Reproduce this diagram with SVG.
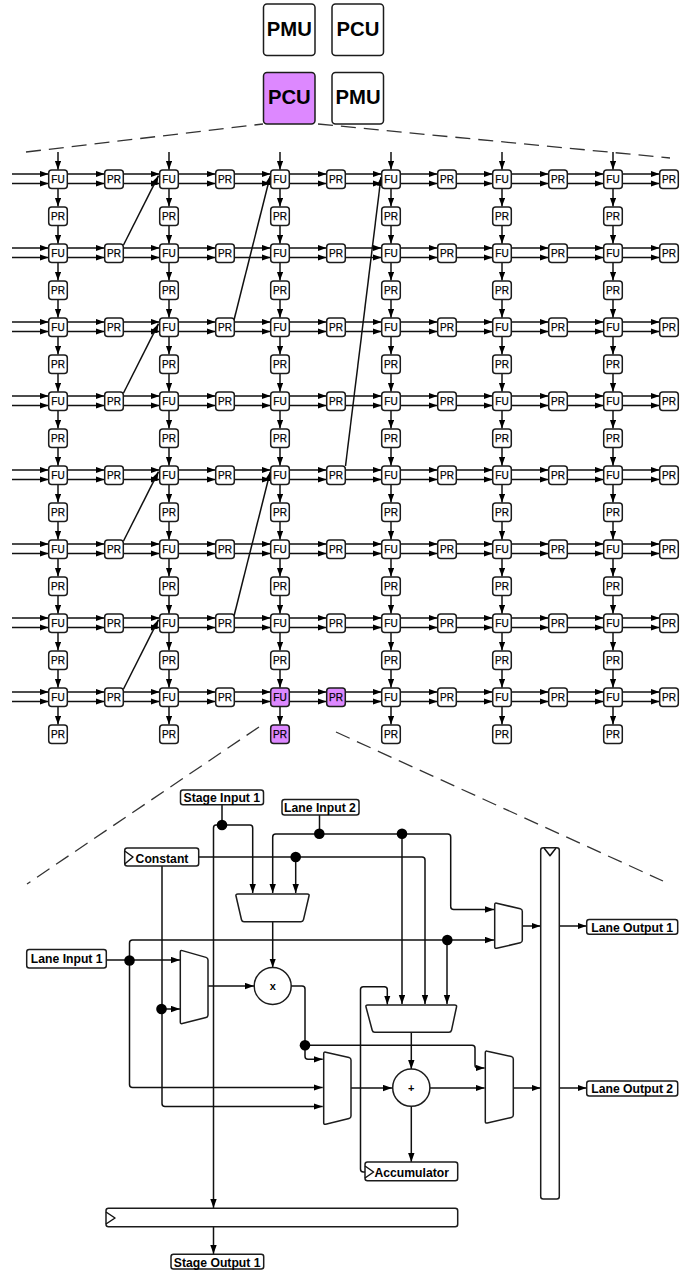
<svg xmlns="http://www.w3.org/2000/svg" width="694" height="1272" viewBox="0 0 694 1272">
<style>
text{font-family:"Liberation Sans",Arial,sans-serif;fill:#000;text-anchor:middle;opacity:.99}
.b{fill:#fff;stroke:#1c1c1c;stroke-width:1.5}
.p{fill:#dd88ff}
.w{fill:none;stroke:#111;stroke-width:1.5;stroke-linejoin:round}
.a{marker-end:url(#ah)}
.d{fill:none;stroke:#333;stroke-width:1.3;stroke-dasharray:15 8}
.dot{fill:#000}
.f{font-size:10px;stroke:#000;stroke-width:.25}
.r{font-size:10px;stroke:#000;stroke-width:.25}
.o{font-size:11px;font-weight:700}
.l{font-size:12.2px;font-weight:700}
.u{font-size:20.3px;font-weight:700}
</style>
<defs>
<marker id="ah" markerUnits="userSpaceOnUse" markerWidth="10" markerHeight="8" refX="9" refY="3.2" orient="auto"><path d="M0 0L9 3.2L0 6.4Z" fill="#000"/></marker>
<g id="row">
<path class="w a" d="M67 174H104.5"/><path class="w a" d="M67 183.5H104.5"/><path class="w a" d="M123 174H159.6"/><path class="w a" d="M123 183.5H159.6"/>
<path class="w a" d="M178 174H215.5"/><path class="w a" d="M178 183.5H215.5"/><path class="w a" d="M234 174H270.6"/><path class="w a" d="M234 183.5H270.6"/>
<path class="w a" d="M289 174H326.5"/><path class="w a" d="M289 183.5H326.5"/><path class="w a" d="M345 174H381.6"/><path class="w a" d="M345 183.5H381.6"/>
<path class="w a" d="M400 174H437.5"/><path class="w a" d="M400 183.5H437.5"/><path class="w a" d="M456 174H492.6"/><path class="w a" d="M456 183.5H492.6"/>
<path class="w a" d="M511 174H548.5"/><path class="w a" d="M511 183.5H548.5"/><path class="w a" d="M567 174H603.6"/><path class="w a" d="M567 183.5H603.6"/>
<path class="w a" d="M622 174H659.5"/><path class="w a" d="M622 183.5H659.5"/>
<path class="w a" d="M12 174H48.6"/><path class="w a" d="M12 183.5H48.6"/>
<path class="w a" d="M58 188.5V206.6"/><path class="w a" d="M169 188.5V206.6"/><path class="w a" d="M280 188.5V206.6"/><path class="w a" d="M391 188.5V206.6"/><path class="w a" d="M502 188.5V206.6"/><path class="w a" d="M613 188.5V206.6"/>
</g>
<g id="down">
<path class="w a" d="M58 225.5V243.7"/><path class="w a" d="M169 225.5V243.7"/><path class="w a" d="M280 225.5V243.7"/><path class="w a" d="M391 225.5V243.7"/><path class="w a" d="M502 225.5V243.7"/><path class="w a" d="M613 225.5V243.7"/>
</g>
</defs>
<g id="zoom-lines">
<path class="d" d="M26 152L263 124"/><path class="d" d="M318 124L670 158"/><path class="d" d="M259 727L27 884"/><path class="d" d="M336 732L663 881"/>
</g>
<g id="connectors">
<use href="#row"/><use href="#row" y="74"/><use href="#row" y="148"/><use href="#row" y="222"/><use href="#row" y="296"/><use href="#row" y="370"/><use href="#row" y="444"/><use href="#row" y="518"/>
<use href="#down"/><use href="#down" y="74"/><use href="#down" y="148"/><use href="#down" y="222"/><use href="#down" y="296"/><use href="#down" y="370"/><use href="#down" y="444"/>
<path class="w a" d="M58 152V169.7"/><path class="w a" d="M169 152V169.7"/><path class="w a" d="M280 152V169.7"/><path class="w a" d="M391 152V169.7"/><path class="w a" d="M502 152V169.7"/><path class="w a" d="M613 152V169.7"/>
<path class="w a" d="M123.5 245L158.5 175.7"/><path class="w a" d="M123.5 393L158.5 323.7"/><path class="w a" d="M123.5 541L158.5 471.7"/><path class="w a" d="M123.5 689L158.5 619.7"/>
<path class="w a" d="M234 320L270.2 176"/><path class="w a" d="M234 616L270.2 472"/><path class="w a" d="M345.5 466L381 177"/>
<path class="w" d="M222 805V825"/>
<path class="w a" d="M222 825H250Q252.7 825 252.7 828V893"/>
<path class="w a" d="M222 825H216Q213.5 825 213.5 828V1208"/>
<path class="w a" d="M213.5 1227V1254"/>
<path class="w" d="M319.5 815V834"/>
<path class="w a" d="M319.5 834H275.7Q272.7 834 272.7 837V893"/>
<path class="w a" d="M319.5 834H447.7Q450.7 834 450.7 837V906.5Q450.7 909.5 453.7 909.5H494"/>
<path class="w a" d="M402 834V1004"/>
<path class="w a" d="M198.7 857H422Q425 857 425 860V1004"/>
<path class="w a" d="M295.7 857V893"/>
<path class="w a" d="M162 866V1103.5Q162 1106.5 165 1106.5H322.7"/>
<path class="w a" d="M162 1009H180"/>
<path class="w a" d="M106.3 960H180"/>
<path class="w a" d="M129.5 960V943Q129.5 940 132.5 940H494"/>
<path class="w a" d="M447 940V1004"/>
<path class="w a" d="M129.5 960V1084.5Q129.5 1087.5 132.5 1087.5H322.7"/>
<path class="w a" d="M272.7 921.7V967.5"/>
<path class="w a" d="M208 986H254"/>
<path class="w" d="M291 986H302Q305 986 305 989V1045"/>
<path class="w a" d="M305 1045V1056.3Q305 1059.3 308 1059.3H322.7"/>
<path class="w a" d="M305 1045.3H472Q475 1045.3 475 1048.3V1065Q475 1068 478 1068H484.6"/>
<path class="w a" d="M351 1088H392"/>
<path class="w a" d="M411.3 1032.3V1069"/>
<path class="w a" d="M430 1088H484.6"/>
<path class="w a" d="M411.3 1106.4V1162"/>
<path class="w a" d="M513.3 1088H540.5"/>
<path class="w a" d="M522.3 926H540.5"/>
<path class="w a" d="M559.3 926H586.5"/>
<path class="w a" d="M559.3 1088H586.5"/>
<path class="w a" d="M365 1172H363.3Q360.5 1172 360.5 1169V989.5Q360.5 986.7 363.3 986.7H384.3Q387.3 986.7 387.3 989.7V1004.5"/>
</g>
<g id="junctions">
<circle class="dot" cx="222" cy="825" r="5.3"/><circle class="dot" cx="319.3" cy="833.7" r="5.3"/><circle class="dot" cx="402" cy="833.7" r="5.3"/><circle class="dot" cx="295.7" cy="857" r="5.3"/><circle class="dot" cx="161.5" cy="1009" r="5.3"/><circle class="dot" cx="129.5" cy="960.5" r="5.3"/><circle class="dot" cx="447.3" cy="940" r="5.3"/><circle class="dot" cx="305" cy="1045.3" r="5.3"/>
</g>
<g id="pmu-1"><rect class="b" x="263.5" y="4" width="51.5" height="51.5" rx="3.5"/><text class="u" x="289.3" y="35.5">PMU</text></g>
<g id="pcu-1"><rect class="b" x="332" y="4" width="51.5" height="51.5" rx="3.5"/><text class="u" x="358" y="35.5">PCU</text></g>
<g id="pcu-2"><rect class="b p" x="263.5" y="72.5" width="51.5" height="51.5" rx="3.5"/><text class="u" x="289.3" y="103.5">PCU</text></g>
<g id="pmu-2"><rect class="b" x="332" y="72.5" width="51.5" height="51.5" rx="3.5"/><text class="u" x="358" y="103.5">PMU</text></g>
<g id="fu-1-1" transform="translate(58 179)"><rect class="b" x="-9.3" y="-9" width="18.6" height="18.6" rx="3"/><text class="f" y="4">FU</text></g>
<g id="fu-1-2" transform="translate(169 179)"><rect class="b" x="-9.3" y="-9" width="18.6" height="18.6" rx="3"/><text class="f" y="4">FU</text></g>
<g id="fu-1-3" transform="translate(280 179)"><rect class="b" x="-9.3" y="-9" width="18.6" height="18.6" rx="3"/><text class="f" y="4">FU</text></g>
<g id="fu-1-4" transform="translate(391 179)"><rect class="b" x="-9.3" y="-9" width="18.6" height="18.6" rx="3"/><text class="f" y="4">FU</text></g>
<g id="fu-1-5" transform="translate(502 179)"><rect class="b" x="-9.3" y="-9" width="18.6" height="18.6" rx="3"/><text class="f" y="4">FU</text></g>
<g id="fu-1-6" transform="translate(613 179)"><rect class="b" x="-9.3" y="-9" width="18.6" height="18.6" rx="3"/><text class="f" y="4">FU</text></g>
<g id="fu-2-1" transform="translate(58 253)"><rect class="b" x="-9.3" y="-9" width="18.6" height="18.6" rx="3"/><text class="f" y="4">FU</text></g>
<g id="fu-2-2" transform="translate(169 253)"><rect class="b" x="-9.3" y="-9" width="18.6" height="18.6" rx="3"/><text class="f" y="4">FU</text></g>
<g id="fu-2-3" transform="translate(280 253)"><rect class="b" x="-9.3" y="-9" width="18.6" height="18.6" rx="3"/><text class="f" y="4">FU</text></g>
<g id="fu-2-4" transform="translate(391 253)"><rect class="b" x="-9.3" y="-9" width="18.6" height="18.6" rx="3"/><text class="f" y="4">FU</text></g>
<g id="fu-2-5" transform="translate(502 253)"><rect class="b" x="-9.3" y="-9" width="18.6" height="18.6" rx="3"/><text class="f" y="4">FU</text></g>
<g id="fu-2-6" transform="translate(613 253)"><rect class="b" x="-9.3" y="-9" width="18.6" height="18.6" rx="3"/><text class="f" y="4">FU</text></g>
<g id="fu-3-1" transform="translate(58 327)"><rect class="b" x="-9.3" y="-9" width="18.6" height="18.6" rx="3"/><text class="f" y="4">FU</text></g>
<g id="fu-3-2" transform="translate(169 327)"><rect class="b" x="-9.3" y="-9" width="18.6" height="18.6" rx="3"/><text class="f" y="4">FU</text></g>
<g id="fu-3-3" transform="translate(280 327)"><rect class="b" x="-9.3" y="-9" width="18.6" height="18.6" rx="3"/><text class="f" y="4">FU</text></g>
<g id="fu-3-4" transform="translate(391 327)"><rect class="b" x="-9.3" y="-9" width="18.6" height="18.6" rx="3"/><text class="f" y="4">FU</text></g>
<g id="fu-3-5" transform="translate(502 327)"><rect class="b" x="-9.3" y="-9" width="18.6" height="18.6" rx="3"/><text class="f" y="4">FU</text></g>
<g id="fu-3-6" transform="translate(613 327)"><rect class="b" x="-9.3" y="-9" width="18.6" height="18.6" rx="3"/><text class="f" y="4">FU</text></g>
<g id="fu-4-1" transform="translate(58 401)"><rect class="b" x="-9.3" y="-9" width="18.6" height="18.6" rx="3"/><text class="f" y="4">FU</text></g>
<g id="fu-4-2" transform="translate(169 401)"><rect class="b" x="-9.3" y="-9" width="18.6" height="18.6" rx="3"/><text class="f" y="4">FU</text></g>
<g id="fu-4-3" transform="translate(280 401)"><rect class="b" x="-9.3" y="-9" width="18.6" height="18.6" rx="3"/><text class="f" y="4">FU</text></g>
<g id="fu-4-4" transform="translate(391 401)"><rect class="b" x="-9.3" y="-9" width="18.6" height="18.6" rx="3"/><text class="f" y="4">FU</text></g>
<g id="fu-4-5" transform="translate(502 401)"><rect class="b" x="-9.3" y="-9" width="18.6" height="18.6" rx="3"/><text class="f" y="4">FU</text></g>
<g id="fu-4-6" transform="translate(613 401)"><rect class="b" x="-9.3" y="-9" width="18.6" height="18.6" rx="3"/><text class="f" y="4">FU</text></g>
<g id="fu-5-1" transform="translate(58 475)"><rect class="b" x="-9.3" y="-9" width="18.6" height="18.6" rx="3"/><text class="f" y="4">FU</text></g>
<g id="fu-5-2" transform="translate(169 475)"><rect class="b" x="-9.3" y="-9" width="18.6" height="18.6" rx="3"/><text class="f" y="4">FU</text></g>
<g id="fu-5-3" transform="translate(280 475)"><rect class="b" x="-9.3" y="-9" width="18.6" height="18.6" rx="3"/><text class="f" y="4">FU</text></g>
<g id="fu-5-4" transform="translate(391 475)"><rect class="b" x="-9.3" y="-9" width="18.6" height="18.6" rx="3"/><text class="f" y="4">FU</text></g>
<g id="fu-5-5" transform="translate(502 475)"><rect class="b" x="-9.3" y="-9" width="18.6" height="18.6" rx="3"/><text class="f" y="4">FU</text></g>
<g id="fu-5-6" transform="translate(613 475)"><rect class="b" x="-9.3" y="-9" width="18.6" height="18.6" rx="3"/><text class="f" y="4">FU</text></g>
<g id="fu-6-1" transform="translate(58 549)"><rect class="b" x="-9.3" y="-9" width="18.6" height="18.6" rx="3"/><text class="f" y="4">FU</text></g>
<g id="fu-6-2" transform="translate(169 549)"><rect class="b" x="-9.3" y="-9" width="18.6" height="18.6" rx="3"/><text class="f" y="4">FU</text></g>
<g id="fu-6-3" transform="translate(280 549)"><rect class="b" x="-9.3" y="-9" width="18.6" height="18.6" rx="3"/><text class="f" y="4">FU</text></g>
<g id="fu-6-4" transform="translate(391 549)"><rect class="b" x="-9.3" y="-9" width="18.6" height="18.6" rx="3"/><text class="f" y="4">FU</text></g>
<g id="fu-6-5" transform="translate(502 549)"><rect class="b" x="-9.3" y="-9" width="18.6" height="18.6" rx="3"/><text class="f" y="4">FU</text></g>
<g id="fu-6-6" transform="translate(613 549)"><rect class="b" x="-9.3" y="-9" width="18.6" height="18.6" rx="3"/><text class="f" y="4">FU</text></g>
<g id="fu-7-1" transform="translate(58 623)"><rect class="b" x="-9.3" y="-9" width="18.6" height="18.6" rx="3"/><text class="f" y="4">FU</text></g>
<g id="fu-7-2" transform="translate(169 623)"><rect class="b" x="-9.3" y="-9" width="18.6" height="18.6" rx="3"/><text class="f" y="4">FU</text></g>
<g id="fu-7-3" transform="translate(280 623)"><rect class="b" x="-9.3" y="-9" width="18.6" height="18.6" rx="3"/><text class="f" y="4">FU</text></g>
<g id="fu-7-4" transform="translate(391 623)"><rect class="b" x="-9.3" y="-9" width="18.6" height="18.6" rx="3"/><text class="f" y="4">FU</text></g>
<g id="fu-7-5" transform="translate(502 623)"><rect class="b" x="-9.3" y="-9" width="18.6" height="18.6" rx="3"/><text class="f" y="4">FU</text></g>
<g id="fu-7-6" transform="translate(613 623)"><rect class="b" x="-9.3" y="-9" width="18.6" height="18.6" rx="3"/><text class="f" y="4">FU</text></g>
<g id="fu-8-1" transform="translate(58 697)"><rect class="b" x="-9.3" y="-9" width="18.6" height="18.6" rx="3"/><text class="f" y="4">FU</text></g>
<g id="fu-8-2" transform="translate(169 697)"><rect class="b" x="-9.3" y="-9" width="18.6" height="18.6" rx="3"/><text class="f" y="4">FU</text></g>
<g id="fu-8-3" transform="translate(280 697)"><rect class="b p" x="-9.3" y="-9" width="18.6" height="18.6" rx="3"/><text class="f" y="4">FU</text></g>
<g id="fu-8-4" transform="translate(391 697)"><rect class="b" x="-9.3" y="-9" width="18.6" height="18.6" rx="3"/><text class="f" y="4">FU</text></g>
<g id="fu-8-5" transform="translate(502 697)"><rect class="b" x="-9.3" y="-9" width="18.6" height="18.6" rx="3"/><text class="f" y="4">FU</text></g>
<g id="fu-8-6" transform="translate(613 697)"><rect class="b" x="-9.3" y="-9" width="18.6" height="18.6" rx="3"/><text class="f" y="4">FU</text></g>
<g id="prh-1-1" transform="translate(114 179)"><rect class="b" x="-9.3" y="-9" width="18.6" height="18.6" rx="3"/><text class="r" y="4">PR</text></g>
<g id="prh-1-2" transform="translate(225 179)"><rect class="b" x="-9.3" y="-9" width="18.6" height="18.6" rx="3"/><text class="r" y="4">PR</text></g>
<g id="prh-1-3" transform="translate(336 179)"><rect class="b" x="-9.3" y="-9" width="18.6" height="18.6" rx="3"/><text class="r" y="4">PR</text></g>
<g id="prh-1-4" transform="translate(447 179)"><rect class="b" x="-9.3" y="-9" width="18.6" height="18.6" rx="3"/><text class="r" y="4">PR</text></g>
<g id="prh-1-5" transform="translate(558 179)"><rect class="b" x="-9.3" y="-9" width="18.6" height="18.6" rx="3"/><text class="r" y="4">PR</text></g>
<g id="prh-1-6" transform="translate(669 179)"><rect class="b" x="-9.3" y="-9" width="18.6" height="18.6" rx="3"/><text class="r" y="4">PR</text></g>
<g id="prh-2-1" transform="translate(114 253)"><rect class="b" x="-9.3" y="-9" width="18.6" height="18.6" rx="3"/><text class="r" y="4">PR</text></g>
<g id="prh-2-2" transform="translate(225 253)"><rect class="b" x="-9.3" y="-9" width="18.6" height="18.6" rx="3"/><text class="r" y="4">PR</text></g>
<g id="prh-2-3" transform="translate(336 253)"><rect class="b" x="-9.3" y="-9" width="18.6" height="18.6" rx="3"/><text class="r" y="4">PR</text></g>
<g id="prh-2-4" transform="translate(447 253)"><rect class="b" x="-9.3" y="-9" width="18.6" height="18.6" rx="3"/><text class="r" y="4">PR</text></g>
<g id="prh-2-5" transform="translate(558 253)"><rect class="b" x="-9.3" y="-9" width="18.6" height="18.6" rx="3"/><text class="r" y="4">PR</text></g>
<g id="prh-2-6" transform="translate(669 253)"><rect class="b" x="-9.3" y="-9" width="18.6" height="18.6" rx="3"/><text class="r" y="4">PR</text></g>
<g id="prh-3-1" transform="translate(114 327)"><rect class="b" x="-9.3" y="-9" width="18.6" height="18.6" rx="3"/><text class="r" y="4">PR</text></g>
<g id="prh-3-2" transform="translate(225 327)"><rect class="b" x="-9.3" y="-9" width="18.6" height="18.6" rx="3"/><text class="r" y="4">PR</text></g>
<g id="prh-3-3" transform="translate(336 327)"><rect class="b" x="-9.3" y="-9" width="18.6" height="18.6" rx="3"/><text class="r" y="4">PR</text></g>
<g id="prh-3-4" transform="translate(447 327)"><rect class="b" x="-9.3" y="-9" width="18.6" height="18.6" rx="3"/><text class="r" y="4">PR</text></g>
<g id="prh-3-5" transform="translate(558 327)"><rect class="b" x="-9.3" y="-9" width="18.6" height="18.6" rx="3"/><text class="r" y="4">PR</text></g>
<g id="prh-3-6" transform="translate(669 327)"><rect class="b" x="-9.3" y="-9" width="18.6" height="18.6" rx="3"/><text class="r" y="4">PR</text></g>
<g id="prh-4-1" transform="translate(114 401)"><rect class="b" x="-9.3" y="-9" width="18.6" height="18.6" rx="3"/><text class="r" y="4">PR</text></g>
<g id="prh-4-2" transform="translate(225 401)"><rect class="b" x="-9.3" y="-9" width="18.6" height="18.6" rx="3"/><text class="r" y="4">PR</text></g>
<g id="prh-4-3" transform="translate(336 401)"><rect class="b" x="-9.3" y="-9" width="18.6" height="18.6" rx="3"/><text class="r" y="4">PR</text></g>
<g id="prh-4-4" transform="translate(447 401)"><rect class="b" x="-9.3" y="-9" width="18.6" height="18.6" rx="3"/><text class="r" y="4">PR</text></g>
<g id="prh-4-5" transform="translate(558 401)"><rect class="b" x="-9.3" y="-9" width="18.6" height="18.6" rx="3"/><text class="r" y="4">PR</text></g>
<g id="prh-4-6" transform="translate(669 401)"><rect class="b" x="-9.3" y="-9" width="18.6" height="18.6" rx="3"/><text class="r" y="4">PR</text></g>
<g id="prh-5-1" transform="translate(114 475)"><rect class="b" x="-9.3" y="-9" width="18.6" height="18.6" rx="3"/><text class="r" y="4">PR</text></g>
<g id="prh-5-2" transform="translate(225 475)"><rect class="b" x="-9.3" y="-9" width="18.6" height="18.6" rx="3"/><text class="r" y="4">PR</text></g>
<g id="prh-5-3" transform="translate(336 475)"><rect class="b" x="-9.3" y="-9" width="18.6" height="18.6" rx="3"/><text class="r" y="4">PR</text></g>
<g id="prh-5-4" transform="translate(447 475)"><rect class="b" x="-9.3" y="-9" width="18.6" height="18.6" rx="3"/><text class="r" y="4">PR</text></g>
<g id="prh-5-5" transform="translate(558 475)"><rect class="b" x="-9.3" y="-9" width="18.6" height="18.6" rx="3"/><text class="r" y="4">PR</text></g>
<g id="prh-5-6" transform="translate(669 475)"><rect class="b" x="-9.3" y="-9" width="18.6" height="18.6" rx="3"/><text class="r" y="4">PR</text></g>
<g id="prh-6-1" transform="translate(114 549)"><rect class="b" x="-9.3" y="-9" width="18.6" height="18.6" rx="3"/><text class="r" y="4">PR</text></g>
<g id="prh-6-2" transform="translate(225 549)"><rect class="b" x="-9.3" y="-9" width="18.6" height="18.6" rx="3"/><text class="r" y="4">PR</text></g>
<g id="prh-6-3" transform="translate(336 549)"><rect class="b" x="-9.3" y="-9" width="18.6" height="18.6" rx="3"/><text class="r" y="4">PR</text></g>
<g id="prh-6-4" transform="translate(447 549)"><rect class="b" x="-9.3" y="-9" width="18.6" height="18.6" rx="3"/><text class="r" y="4">PR</text></g>
<g id="prh-6-5" transform="translate(558 549)"><rect class="b" x="-9.3" y="-9" width="18.6" height="18.6" rx="3"/><text class="r" y="4">PR</text></g>
<g id="prh-6-6" transform="translate(669 549)"><rect class="b" x="-9.3" y="-9" width="18.6" height="18.6" rx="3"/><text class="r" y="4">PR</text></g>
<g id="prh-7-1" transform="translate(114 623)"><rect class="b" x="-9.3" y="-9" width="18.6" height="18.6" rx="3"/><text class="r" y="4">PR</text></g>
<g id="prh-7-2" transform="translate(225 623)"><rect class="b" x="-9.3" y="-9" width="18.6" height="18.6" rx="3"/><text class="r" y="4">PR</text></g>
<g id="prh-7-3" transform="translate(336 623)"><rect class="b" x="-9.3" y="-9" width="18.6" height="18.6" rx="3"/><text class="r" y="4">PR</text></g>
<g id="prh-7-4" transform="translate(447 623)"><rect class="b" x="-9.3" y="-9" width="18.6" height="18.6" rx="3"/><text class="r" y="4">PR</text></g>
<g id="prh-7-5" transform="translate(558 623)"><rect class="b" x="-9.3" y="-9" width="18.6" height="18.6" rx="3"/><text class="r" y="4">PR</text></g>
<g id="prh-7-6" transform="translate(669 623)"><rect class="b" x="-9.3" y="-9" width="18.6" height="18.6" rx="3"/><text class="r" y="4">PR</text></g>
<g id="prh-8-1" transform="translate(114 697)"><rect class="b" x="-9.3" y="-9" width="18.6" height="18.6" rx="3"/><text class="r" y="4">PR</text></g>
<g id="prh-8-2" transform="translate(225 697)"><rect class="b" x="-9.3" y="-9" width="18.6" height="18.6" rx="3"/><text class="r" y="4">PR</text></g>
<g id="prh-8-3" transform="translate(336 697)"><rect class="b p" x="-9.3" y="-9" width="18.6" height="18.6" rx="3"/><text class="r" y="4">PR</text></g>
<g id="prh-8-4" transform="translate(447 697)"><rect class="b" x="-9.3" y="-9" width="18.6" height="18.6" rx="3"/><text class="r" y="4">PR</text></g>
<g id="prh-8-5" transform="translate(558 697)"><rect class="b" x="-9.3" y="-9" width="18.6" height="18.6" rx="3"/><text class="r" y="4">PR</text></g>
<g id="prh-8-6" transform="translate(669 697)"><rect class="b" x="-9.3" y="-9" width="18.6" height="18.6" rx="3"/><text class="r" y="4">PR</text></g>
<g id="prv-1-1" transform="translate(58 216)"><rect class="b" x="-9.3" y="-9" width="18.6" height="18.6" rx="3"/><text class="r" y="4">PR</text></g>
<g id="prv-1-2" transform="translate(169 216)"><rect class="b" x="-9.3" y="-9" width="18.6" height="18.6" rx="3"/><text class="r" y="4">PR</text></g>
<g id="prv-1-3" transform="translate(280 216)"><rect class="b" x="-9.3" y="-9" width="18.6" height="18.6" rx="3"/><text class="r" y="4">PR</text></g>
<g id="prv-1-4" transform="translate(391 216)"><rect class="b" x="-9.3" y="-9" width="18.6" height="18.6" rx="3"/><text class="r" y="4">PR</text></g>
<g id="prv-1-5" transform="translate(502 216)"><rect class="b" x="-9.3" y="-9" width="18.6" height="18.6" rx="3"/><text class="r" y="4">PR</text></g>
<g id="prv-1-6" transform="translate(613 216)"><rect class="b" x="-9.3" y="-9" width="18.6" height="18.6" rx="3"/><text class="r" y="4">PR</text></g>
<g id="prv-2-1" transform="translate(58 290)"><rect class="b" x="-9.3" y="-9" width="18.6" height="18.6" rx="3"/><text class="r" y="4">PR</text></g>
<g id="prv-2-2" transform="translate(169 290)"><rect class="b" x="-9.3" y="-9" width="18.6" height="18.6" rx="3"/><text class="r" y="4">PR</text></g>
<g id="prv-2-3" transform="translate(280 290)"><rect class="b" x="-9.3" y="-9" width="18.6" height="18.6" rx="3"/><text class="r" y="4">PR</text></g>
<g id="prv-2-4" transform="translate(391 290)"><rect class="b" x="-9.3" y="-9" width="18.6" height="18.6" rx="3"/><text class="r" y="4">PR</text></g>
<g id="prv-2-5" transform="translate(502 290)"><rect class="b" x="-9.3" y="-9" width="18.6" height="18.6" rx="3"/><text class="r" y="4">PR</text></g>
<g id="prv-2-6" transform="translate(613 290)"><rect class="b" x="-9.3" y="-9" width="18.6" height="18.6" rx="3"/><text class="r" y="4">PR</text></g>
<g id="prv-3-1" transform="translate(58 364)"><rect class="b" x="-9.3" y="-9" width="18.6" height="18.6" rx="3"/><text class="r" y="4">PR</text></g>
<g id="prv-3-2" transform="translate(169 364)"><rect class="b" x="-9.3" y="-9" width="18.6" height="18.6" rx="3"/><text class="r" y="4">PR</text></g>
<g id="prv-3-3" transform="translate(280 364)"><rect class="b" x="-9.3" y="-9" width="18.6" height="18.6" rx="3"/><text class="r" y="4">PR</text></g>
<g id="prv-3-4" transform="translate(391 364)"><rect class="b" x="-9.3" y="-9" width="18.6" height="18.6" rx="3"/><text class="r" y="4">PR</text></g>
<g id="prv-3-5" transform="translate(502 364)"><rect class="b" x="-9.3" y="-9" width="18.6" height="18.6" rx="3"/><text class="r" y="4">PR</text></g>
<g id="prv-3-6" transform="translate(613 364)"><rect class="b" x="-9.3" y="-9" width="18.6" height="18.6" rx="3"/><text class="r" y="4">PR</text></g>
<g id="prv-4-1" transform="translate(58 438)"><rect class="b" x="-9.3" y="-9" width="18.6" height="18.6" rx="3"/><text class="r" y="4">PR</text></g>
<g id="prv-4-2" transform="translate(169 438)"><rect class="b" x="-9.3" y="-9" width="18.6" height="18.6" rx="3"/><text class="r" y="4">PR</text></g>
<g id="prv-4-3" transform="translate(280 438)"><rect class="b" x="-9.3" y="-9" width="18.6" height="18.6" rx="3"/><text class="r" y="4">PR</text></g>
<g id="prv-4-4" transform="translate(391 438)"><rect class="b" x="-9.3" y="-9" width="18.6" height="18.6" rx="3"/><text class="r" y="4">PR</text></g>
<g id="prv-4-5" transform="translate(502 438)"><rect class="b" x="-9.3" y="-9" width="18.6" height="18.6" rx="3"/><text class="r" y="4">PR</text></g>
<g id="prv-4-6" transform="translate(613 438)"><rect class="b" x="-9.3" y="-9" width="18.6" height="18.6" rx="3"/><text class="r" y="4">PR</text></g>
<g id="prv-5-1" transform="translate(58 512)"><rect class="b" x="-9.3" y="-9" width="18.6" height="18.6" rx="3"/><text class="r" y="4">PR</text></g>
<g id="prv-5-2" transform="translate(169 512)"><rect class="b" x="-9.3" y="-9" width="18.6" height="18.6" rx="3"/><text class="r" y="4">PR</text></g>
<g id="prv-5-3" transform="translate(280 512)"><rect class="b" x="-9.3" y="-9" width="18.6" height="18.6" rx="3"/><text class="r" y="4">PR</text></g>
<g id="prv-5-4" transform="translate(391 512)"><rect class="b" x="-9.3" y="-9" width="18.6" height="18.6" rx="3"/><text class="r" y="4">PR</text></g>
<g id="prv-5-5" transform="translate(502 512)"><rect class="b" x="-9.3" y="-9" width="18.6" height="18.6" rx="3"/><text class="r" y="4">PR</text></g>
<g id="prv-5-6" transform="translate(613 512)"><rect class="b" x="-9.3" y="-9" width="18.6" height="18.6" rx="3"/><text class="r" y="4">PR</text></g>
<g id="prv-6-1" transform="translate(58 586)"><rect class="b" x="-9.3" y="-9" width="18.6" height="18.6" rx="3"/><text class="r" y="4">PR</text></g>
<g id="prv-6-2" transform="translate(169 586)"><rect class="b" x="-9.3" y="-9" width="18.6" height="18.6" rx="3"/><text class="r" y="4">PR</text></g>
<g id="prv-6-3" transform="translate(280 586)"><rect class="b" x="-9.3" y="-9" width="18.6" height="18.6" rx="3"/><text class="r" y="4">PR</text></g>
<g id="prv-6-4" transform="translate(391 586)"><rect class="b" x="-9.3" y="-9" width="18.6" height="18.6" rx="3"/><text class="r" y="4">PR</text></g>
<g id="prv-6-5" transform="translate(502 586)"><rect class="b" x="-9.3" y="-9" width="18.6" height="18.6" rx="3"/><text class="r" y="4">PR</text></g>
<g id="prv-6-6" transform="translate(613 586)"><rect class="b" x="-9.3" y="-9" width="18.6" height="18.6" rx="3"/><text class="r" y="4">PR</text></g>
<g id="prv-7-1" transform="translate(58 660)"><rect class="b" x="-9.3" y="-9" width="18.6" height="18.6" rx="3"/><text class="r" y="4">PR</text></g>
<g id="prv-7-2" transform="translate(169 660)"><rect class="b" x="-9.3" y="-9" width="18.6" height="18.6" rx="3"/><text class="r" y="4">PR</text></g>
<g id="prv-7-3" transform="translate(280 660)"><rect class="b" x="-9.3" y="-9" width="18.6" height="18.6" rx="3"/><text class="r" y="4">PR</text></g>
<g id="prv-7-4" transform="translate(391 660)"><rect class="b" x="-9.3" y="-9" width="18.6" height="18.6" rx="3"/><text class="r" y="4">PR</text></g>
<g id="prv-7-5" transform="translate(502 660)"><rect class="b" x="-9.3" y="-9" width="18.6" height="18.6" rx="3"/><text class="r" y="4">PR</text></g>
<g id="prv-7-6" transform="translate(613 660)"><rect class="b" x="-9.3" y="-9" width="18.6" height="18.6" rx="3"/><text class="r" y="4">PR</text></g>
<g id="prv-8-1" transform="translate(58 734)"><rect class="b" x="-9.3" y="-9" width="18.6" height="18.6" rx="3"/><text class="r" y="4">PR</text></g>
<g id="prv-8-2" transform="translate(169 734)"><rect class="b" x="-9.3" y="-9" width="18.6" height="18.6" rx="3"/><text class="r" y="4">PR</text></g>
<g id="prv-8-3" transform="translate(280 734)"><rect class="b p" x="-9.3" y="-9" width="18.6" height="18.6" rx="3"/><text class="r" y="4">PR</text></g>
<g id="prv-8-4" transform="translate(391 734)"><rect class="b" x="-9.3" y="-9" width="18.6" height="18.6" rx="3"/><text class="r" y="4">PR</text></g>
<g id="prv-8-5" transform="translate(502 734)"><rect class="b" x="-9.3" y="-9" width="18.6" height="18.6" rx="3"/><text class="r" y="4">PR</text></g>
<g id="prv-8-6" transform="translate(613 734)"><rect class="b" x="-9.3" y="-9" width="18.6" height="18.6" rx="3"/><text class="r" y="4">PR</text></g>
<g id="stage-input-1"><rect class="b" x="180.5" y="790" width="83" height="14.7" rx="2.5"/><text class="l" x="221.8" y="802">Stage Input 1</text></g>
<g id="lane-input-2"><rect class="b" x="282" y="799.5" width="77" height="15.5" rx="2.5"/><text class="l" x="320" y="812">Lane Input 2</text></g>
<g id="constant"><rect class="b" x="124.7" y="848" width="74" height="18" rx="2.5"/><path class="w" d="M124.7 851L133 857L124.7 864"/><text class="l" x="162" y="863">Constant</text></g>
<g id="lane-input-1"><rect class="b" x="26.7" y="949.5" width="79.6" height="18.5" rx="2.5"/><text class="l" x="66.7" y="963">Lane Input 1</text></g>
<g id="mux-a"><path class="b" d="M238 894H307.3Q309.5 894 309 896L303.5 919.7Q303 921.7 301 921.7H244Q242 921.7 241.5 919.7L236 896Q235.5 894 238 894Z"/></g>
<g id="mul"><circle class="b" cx="272.7" cy="986" r="18.5"/><text class="o" x="272.7" y="989.5">x</text></g>
<g id="mux-b"><path class="b" d="M180.3 952Q180.3 950 182.3 950.6L206 957.4Q208 958 208 960V1015Q208 1017 206 1017.5L182.3 1023.6Q180.3 1024 180.3 1022Z"/></g>
<g id="mux-c"><path class="b" d="M323.7 1053.7Q323.7 1051.7 325.7 1052.2L349 1057.5Q351 1058 351 1060V1116Q351 1118 349 1118.5L325.7 1124.2Q323.7 1124.7 323.7 1122.7Z"/></g>
<g id="mux-d"><path class="b" d="M367.7 1005H454.7Q457 1005 456.5 1007L451.5 1030.3Q451 1032.3 449 1032.3H374.7Q372.7 1032.3 372.2 1030.3L366 1007Q365.5 1005 367.7 1005Z"/></g>
<g id="add"><circle class="b" cx="411.3" cy="1087.7" r="18.6"/><text class="o" x="411.3" y="1091.5">+</text></g>
<g id="mux-e"><path class="b" d="M485.3 1052.7Q485.3 1050.7 487.3 1051.2L511.3 1056.5Q513.3 1057 513.3 1059V1115Q513.3 1117 511.3 1117.5L487.3 1123Q485.3 1123.5 485.3 1121.5Z"/></g>
<g id="mux-f"><path class="b" d="M494.7 904.7Q494.7 902.7 496.7 903.2L520.3 908.8Q522.3 909.3 522.3 911.3V940.3Q522.3 942.3 520.3 942.8L496.7 948.2Q494.7 948.7 494.7 946.7Z"/></g>
<g id="register-tall"><rect class="b" x="540.7" y="847.7" width="18.6" height="351.3" rx="2.5"/><path class="w" d="M544 848L550 855.7L556 848"/></g>
<g id="lane-output-1"><rect class="b" x="586.7" y="919.5" width="91" height="14.7" rx="2.5"/><text class="l" x="632.2" y="932">Lane Output 1</text></g>
<g id="lane-output-2"><rect class="b" x="586.7" y="1081" width="91" height="15" rx="2.5"/><text class="l" x="632.2" y="1093">Lane Output 2</text></g>
<g id="accumulator"><rect class="b" x="365" y="1162" width="92.7" height="18.7" rx="2.5"/><path class="w" d="M365 1166L373.6 1172L365 1178"/><text class="l" x="411.7" y="1177">Accumulator</text></g>
<g id="register-wide"><rect class="b" x="106" y="1208.3" width="351.7" height="18.4" rx="2.5"/><path class="w" d="M106 1212L115 1218L106 1224"/></g>
<g id="stage-output-1"><rect class="b" x="171" y="1254.3" width="92.7" height="14.7" rx="2.5"/><text class="l" x="217.2" y="1267">Stage Output 1</text></g>
</svg>
